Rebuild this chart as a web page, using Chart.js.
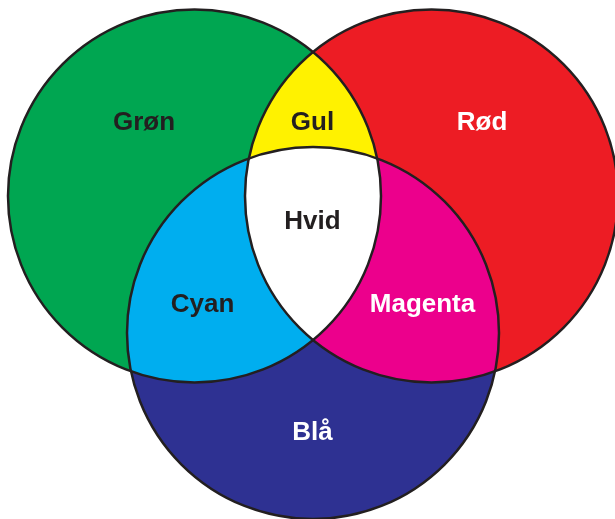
<!DOCTYPE html>
<html>
<head>
<meta charset="utf-8">
<script src="https://cdn.jsdelivr.net/npm/chart.js@4.4.0/dist/chart.umd.min.js"></script>
<style>
  html, body { margin: 0; padding: 0; background: #fff; }
  #wrap { width: 615px; height: 519px; position: relative; }
</style>
</head>
<body>
<div id="wrap"><canvas id="venn"></canvas></div>
<script>
// the three sets (circles), in data units
const setNames = ['Grøn', 'Rød', 'Blå'];
const setX = [194.5, 431.5, 313];
const setY = [196, 196, 333];
const setR = [186.5, 186.5, 186];

// regions of the diagram and which sets they belong to
const regionNames = ['Grøn', 'Gul', 'Rød', 'Cyan', 'Hvid', 'Magenta', 'Blå'];
const regionSets = [[0], [0, 1], [1], [0, 2], [0, 1, 2], [1, 2], [2]];
// label anchor (centre x, text baseline y)
const labelX = [144, 312.5, 482, 202.5, 312.5, 422.5, 312.5];
const labelY = [130, 130, 130, 312, 229, 312, 440];

const setColors = ['#00A651', '#ED1C24', '#2E3192'];
const regionColors = ['#00A651', '#FFF200', '#ED1C24', '#00AEEF', '#FFFFFF', '#EC008C', '#2E3192'];
const labelColors = ['#231F20', '#231F20', '#FFFFFF', '#231F20', '#231F20', '#FFFFFF', '#FFFFFF'];
const outline = '#231F20';

function pxRadius(chart, r) {
  const xs = chart.scales.x;
  return xs.getPixelForValue(r) - xs.getPixelForValue(0);
}

const vennPlugin = {
  id: 'venn',
  afterDatasetsDraw(chart) {
    const ctx = chart.ctx;
    const xs = chart.scales.x, ys = chart.scales.y;
    const circle = (i) => {
      ctx.beginPath();
      ctx.arc(xs.getPixelForValue(setX[i]), ys.getPixelForValue(setY[i]), pxRadius(chart, setR[i]), 0, Math.PI * 2);
    };

    // overlaps get their own colour: pairs first, then the middle
    [2, 3].forEach(n => {
      regionSets.forEach((sets, k) => {
        if (sets.length !== n) return;
        ctx.save();
        sets.slice(0, -1).forEach(i => { circle(i); ctx.clip(); });
        circle(sets[sets.length - 1]);
        ctx.fillStyle = regionColors[k];
        ctx.fill();
        ctx.restore();
      });
    });

    // outlines
    ctx.save();
    ctx.strokeStyle = outline;
    ctx.lineWidth = 2.5;
    setNames.forEach((n, i) => { circle(i); ctx.stroke(); });
    ctx.restore();

    // labels
    ctx.save();
    ctx.font = 'bold 26px "Liberation Sans", Arial, sans-serif';
    ctx.textAlign = 'center';
    ctx.textBaseline = 'alphabetic';
    regionNames.forEach((name, k) => {
      ctx.fillStyle = labelColors[k];
      ctx.fillText(name, xs.getPixelForValue(labelX[k]), ys.getPixelForValue(labelY[k]));
    });
    ctx.restore();
  }
};

new Chart(document.getElementById('venn'), {
  type: 'scatter',
  data: {
    datasets: [{
      label: 'Sets',
      data: setNames.map((n, i) => ({ x: setX[i], y: setY[i] })),
      backgroundColor: setColors,
      borderWidth: 0,
      pointRadius: (c) => pxRadius(c.chart, setR[c.dataIndex] || 0),
      pointHoverRadius: (c) => pxRadius(c.chart, setR[c.dataIndex] || 0),
      showLine: false,
      clip: false
    }]
  },
  options: {
    responsive: true,
    maintainAspectRatio: false,
    animation: false,
    events: [],
    layout: { padding: 0 },
    scales: {
      x: { type: 'linear', min: 0, max: 615, display: false },
      y: { type: 'linear', min: 0, max: 519, reverse: true, display: false }
    },
    plugins: {
      legend: { display: false },
      tooltip: { enabled: false }
    }
  },
  plugins: [vennPlugin]
});
</script>
</body>
</html>
